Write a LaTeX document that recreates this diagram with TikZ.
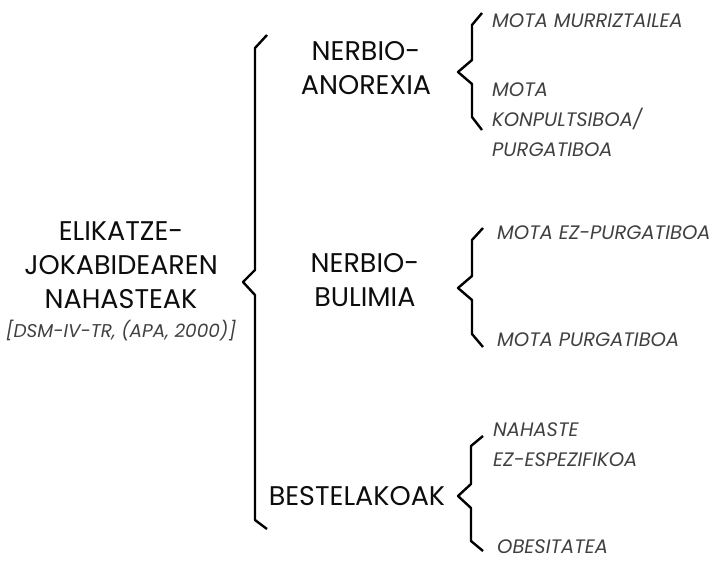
\documentclass[tikz,border=0pt]{standalone}
\usepackage{fontspec}
\setmainfont{Poppins}
\usepackage{tikz}

\begin{document}
\begin{tikzpicture}[x=1pt,y=-1pt,
  big/.style={font=\fontsize{27}{34}\selectfont, text=black!95, align=center, inner sep=0pt},
  sub/.style={font=\fontsize{19.5}{30}\selectfont\itshape, text=black!75, align=left, anchor=west, inner sep=0pt},
  brace/.style={line width=2.4pt, line join=round}]
\useasboundingbox (0,0) rectangle (716,563);

% main title
\node[big] (elik) at (121,265) {ELIKATZE-\\JOKABIDEAREN\\NAHASTEAK};
\node[sub, anchor=center, font=\fontsize{18.5}{24}\selectfont\itshape] (dsm) at (121,331) {[DSM-IV-TR, (APA, 2000)]};

% big brace
\draw[brace] (267,35) -- (255,48) -- (255,270) -- (243,282) -- (255,295) -- (255,520) -- (267,529);

% second level
\node[big] (anor) at (366,68) {NERBIO-\\ANOREXIA};
\node[big] (buli) at (365,280) {NERBIO-\\BULIMIA};
\node[big] (beste) at (357,496) {BESTELAKOAK};

% small braces
\draw[brace] (483,436) -- (471,446) -- (471,484) -- (458,496) -- (471,508) -- (471,541) -- (483,551);
\draw[brace] (482,13) -- (472,25) -- (472,60) -- (458,72) -- (472,84) -- (472,117) -- (482,130);
\draw[brace] (483,228) -- (472,240) -- (472,276) -- (458,288) -- (472,300) -- (472,334) -- (483,347);

% third level
\node[sub] (murriz) at (492,21) {MOTA MURRIZTAILEA};
\node[sub] (konpul) at (492,120) {MOTA\\KONPULTSIBOA/\\PURGATIBOA};
\node[sub] (ezpurg) at (497,233) {MOTA EZ-PURGATIBOA};
\node[sub] (purg) at (497,340) {MOTA PURGATIBOA};
\node[sub] (nahaste) at (493,445) {NAHASTE\\EZ-ESPEZIFIKOA};
\node[sub] (obesit) at (497,547) {OBESITATEA};

\end{tikzpicture}
\end{document}
